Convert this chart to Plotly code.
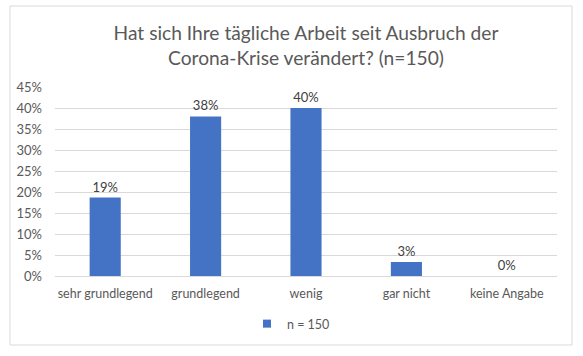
import plotly.graph_objects as go

categories = ["sehr grundlegend", "grundlegend", "wenig", "gar nicht", "keine Angabe"]
values = [18.67, 38.0, 40.0, 3.33, 0.0]
labels = ["19%", "38%", "40%", "3%", "0%"]
tick_vals = [0, 5, 10, 15, 20, 25, 30, 35, 40, 45]
tick_text = ["0%", "5%", "10%", "15%", "20%", "25%", "30%", "35%", "40%", "45%"]
series_name = "n = 150"
title = "Hat sich Ihre tägliche Arbeit seit Ausbruch der<br>Corona-Krise verändert? (n=150)"

FONT = "Lato, 'Open Sans', sans-serif"
BLUE = "#4472C4"

fig = go.Figure()
fig.add_trace(go.Bar(
    x=categories, y=values, name=series_name,
    marker=dict(color=BLUE, line=dict(width=0)),
    text=labels, textposition="outside", cliponaxis=False,
    textfont=dict(size=13, color="#404040", family=FONT),
    showlegend=False,
))
# legend entry (small square like the original)
fig.add_trace(go.Scatter(
    x=[None], y=[None], mode="markers", name=series_name,
    marker=dict(symbol="square", size=8, color=BLUE),
    showlegend=True,
))

W, H = 583, 356
l, r, t, b = 55, 26, 87, 80
pw, ph = W - l - r, H - t - b

def px_x(x):
    return (x - l) / pw

def px_y(y):
    return (H - b - y) / ph

fig.update_layout(
    width=W, height=H,
    margin=dict(l=l, r=r, t=t, b=b, autoexpand=False),
    paper_bgcolor="white", plot_bgcolor="white",
    font=dict(family=FONT, color="#595959", size=13),
    title=dict(text=title, x=0.5, xref="paper", xanchor="center",
               y=1 - 40 / H, yref="container", yanchor="middle",
               font=dict(size=19.2, color="#595959", family=FONT)),
    bargap=0.69,
    xaxis=dict(showgrid=False, showline=False, ticks="",
               ticklabelstandoff=8,
               tickfont=dict(size=12.5, color="#595959")),
    yaxis=dict(range=[0, 45], tickvals=tick_vals, ticktext=tick_text,
               showgrid=True, gridcolor="#D9D9D9", gridwidth=1,
               zeroline=True, zerolinecolor="#D9D9D9", zerolinewidth=1,
               showline=False, ticks="", ticklabelstandoff=12,
               tickfont=dict(size=13, color="#595959")),
    legend=dict(orientation="h", x=px_x(247), xanchor="left",
                y=px_y(324), yanchor="middle",
                font=dict(size=12.5, color="#595959"),
                itemwidth=30, bgcolor="rgba(0,0,0,0)"),
    shapes=[dict(type="rect", xref="paper", yref="paper",
                 x0=px_x(10), x1=px_x(572), y0=px_y(345), y1=px_y(6),
                 line=dict(color="#D9D9D9", width=1), fillcolor="rgba(0,0,0,0)",
                 layer="below")],
)

fig.write_html("out.html", config={"displayModeBar": False},
               post_script="document.body.style.margin='0';")
